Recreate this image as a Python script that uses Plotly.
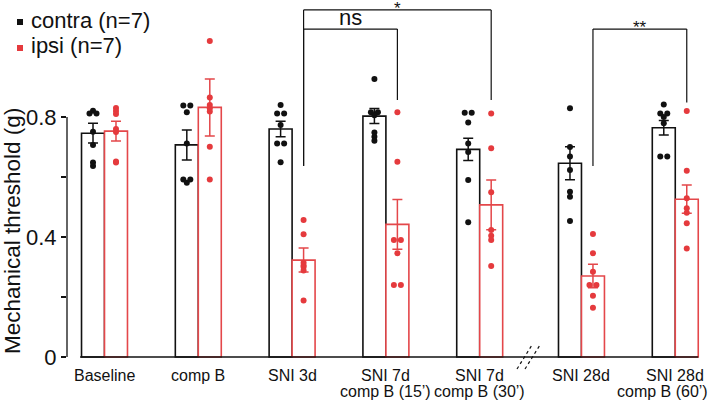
import plotly.graph_objects as go

# ---------------- data ----------------
categories = ["Baseline", "comp B", "SNI 3d", "SNI 7d<br>comp B (15’)",
              "SNI 7d<br>comp B (30’)", "SNI 28d", "SNI 28d<br>comp B (60’)"]
series_names = ["contra (n=7)", "ipsi (n=7)"]
y_title = "Mechanical threshold (g)"

contra_mean = [0.746, 0.707, 0.760, 0.803, 0.692, 0.646, 0.764]
contra_sem = [0.033, 0.050, 0.026, 0.025, 0.037, 0.055, 0.024]
ipsi_mean = [0.753, 0.832, 0.323, 0.442, 0.507, 0.270, 0.526]
ipsi_sem = [0.033, 0.095, 0.040, 0.083, 0.083, 0.039, 0.047]

contra_points = [
    [0.821, 0.812, 0.812, 0.751, 0.707, 0.648, 0.637],
    [0.838, 0.838, 0.816, 0.712, 0.592, 0.581, 0.592],
    [0.840, 0.812, 0.812, 0.773, 0.712, 0.712, 0.649],
    [0.927, 0.816, 0.816, 0.806, 0.748, 0.734, 0.721],
    [0.814, 0.814, 0.782, 0.712, 0.683, 0.590, 0.449],
    [0.829, 0.700, 0.668, 0.623, 0.551, 0.534, 0.453],
    [0.842, 0.812, 0.812, 0.800, 0.779, 0.668, 0.668],
]
ipsi_points = [
    [0.830, 0.820, 0.810, 0.760, 0.750, 0.652, 0.648],
    [1.053, 0.865, 0.840, 0.829, 0.818, 0.701, 0.592],
    [0.457, 0.409, 0.314, 0.305, 0.300, 0.288, 0.188],
    [0.816, 0.651, 0.390, 0.390, 0.346, 0.240, 0.240],
    [0.812, 0.696, 0.549, 0.423, 0.404, 0.390, 0.303],
    [0.410, 0.346, 0.284, 0.240, 0.240, 0.204, 0.164],
    [0.820, 0.621, 0.529, 0.496, 0.481, 0.446, 0.362],
]
y_tick_vals = [0, 0.2, 0.4, 0.6, 0.8]
y_tick_text = ["0", "", "0.4", "", "0.8"]

# comparisons: (left group, right group, label)
comparisons = [(2, 3, "ns"), (2, 4, "*"), (5, 6, "**")]

# ---------------- layout constants ----------------
FONT = "Liberation Sans, Arial, sans-serif"
BLACK = "#111111"
RED = "#E53A3D"
RED_BAR = "#E4474A"
GAP_AFTER = 5          # axis break before this group
GAP = 0.085
BW = 0.245
HALF = 0.1225
W, H = 708, 401
ML, MR, MT, MB = 67, 0, 0, 42
PX_PER_X = 93.8
X0_PX = 104.5
XMIN = (ML - X0_PX) / PX_PER_X
XMAX = (W - MR - X0_PX) / PX_PER_X
PLOT_H = H - MT - MB
YMIN = -(PLOT_H - 357) / 300.0
YMAX = 357 / 300.0

centers = [i + (GAP if i >= GAP_AFTER else 0) for i in range(len(categories))]


def px_to_paper_x(px):
    return (px - ML) / (W - ML - MR)


def px_to_paper_y(py):
    return (H - MB - py) / PLOT_H


def jitter(vals, base):
    xs = []
    step = 0.0746
    for i, v in enumerate(vals):
        same = [j for j, w in enumerate(vals) if abs(w - v) < 0.001]
        k = same.index(i)
        n = len(same)
        xs.append(base + (k - (n - 1) / 2) * step)
    return xs


fig = go.Figure()

# bars with error bars
for name, means, sems, col, off in [
    (series_names[0], contra_mean, contra_sem, BLACK, -HALF),
    (series_names[1], ipsi_mean, ipsi_sem, RED_BAR, HALF),
]:
    fig.add_trace(go.Bar(
        x=[c + off for c in centers], y=means, width=BW, name=name,
        marker=dict(color="white", line=dict(color=col, width=1.6)),
        error_y=dict(type="data", array=sems, visible=True, color=col,
                     thickness=1.5, width=5),
        showlegend=False, hoverinfo="skip",
    ))

# individual points
for name, pts, col, off in [
    (series_names[0], contra_points, BLACK, -HALF),
    (series_names[1], ipsi_points, RED, HALF),
]:
    xs, ys = [], []
    for c, vals in zip(centers, pts):
        xs += jitter(vals, c + off)
        ys += vals
    fig.add_trace(go.Scatter(
        x=xs, y=ys, mode="markers", name=name,
        marker=dict(color=col, size=6, line=dict(width=0)),
        showlegend=False, cliponaxis=False, hoverinfo="skip",
    ))

shapes = []
annotations = []

# y axis line (0 to 0.8)
shapes.append(dict(type="line", xref="paper", yref="y", x0=0, x1=0,
                   y0=0, y1=0.8, line=dict(color=BLACK, width=1.3)))
# x axis line
shapes.append(dict(type="line", xref="x", yref="y",
                   x0=centers[0] - HALF - BW / 2 - 0.015,
                   x1=centers[-1] + HALF + BW / 2,
                   y0=0, y1=0, line=dict(color=BLACK, width=1.5)))
# axis break marks
for dx in (0, 8):
    shapes.append(dict(type="line", xref="paper", yref="paper",
                       x0=px_to_paper_x(517 + dx), y0=px_to_paper_y(369),
                       x1=px_to_paper_x(532 + dx), y1=px_to_paper_y(345),
                       line=dict(color=BLACK, width=1.2, dash="dot")))

# y axis title (placed like the reference, below the plot-area centre)
annotations.append(dict(x=px_to_paper_x(12), y=px_to_paper_y(231),
                        xref="paper", yref="paper", text=y_title, textangle=-90,
                        showarrow=False, xanchor="center", yanchor="middle",
                        font=dict(size=22.5, color=BLACK, family=FONT)))

# category labels (one annotation per text line)
for gi, (c, lab) in enumerate(zip(centers, categories)):
    for li, line in enumerate(lab.split("<br>")):
        ann = dict(x=c, y=px_to_paper_y(375.5 + 16 * li),
                   xref="x", yref="paper", text=line,
                   showarrow=False, xanchor="center", yanchor="middle",
                   font=dict(size=16, color=BLACK, family=FONT))
        if gi == len(categories) - 1 and li == 1:
            # keep the long last line inside the figure's right edge
            ann.update(x=1, xref="paper", xanchor="right", xshift=2)
        annotations.append(ann)

# significance brackets
bracket_tops = {"ns": 1.093, "*": 1.157, "**": 1.093}
bracket_ends = {2: 0.637, 3: 0.857, 4: 0.857, 5: 0.637, 6: 0.848}
for a, b, lab in comparisons:
    xa = centers[a] + HALF
    xb = centers[b] + HALF
    top = bracket_tops[lab]
    shapes.append(dict(type="line", xref="x", yref="y", x0=xa, x1=xb,
                       y0=top, y1=top, line=dict(color=BLACK, width=1.2)))
    shapes.append(dict(type="line", xref="x", yref="y", x0=xa, x1=xa,
                       y0=bracket_ends[a], y1=top, line=dict(color=BLACK, width=1.2)))
    shapes.append(dict(type="line", xref="x", yref="y", x0=xb, x1=xb,
                       y0=bracket_ends[b], y1=top, line=dict(color=BLACK, width=1.2)))
    if lab == "ns":
        annotations.append(dict(x=(xa + xb) / 2, y=top, xref="x", yref="y",
                                text=lab, showarrow=False, yanchor="bottom",
                                yshift=-3, font=dict(size=22, color=BLACK, family=FONT)))
    else:
        annotations.append(dict(x=(xa + xb) / 2, y=top, xref="x", yref="y",
                                text=lab, showarrow=False, yanchor="bottom",
                                yshift=-10, font=dict(size=17, color=BLACK, family=FONT)))

# legend (squares + text)
for name, col, cy in [(series_names[0], BLACK, 22), (series_names[1], RED, 48)]:
    shapes.append(dict(type="rect", xref="paper", yref="paper",
                       x0=px_to_paper_x(17), x1=px_to_paper_x(23),
                       y0=px_to_paper_y(cy + 3), y1=px_to_paper_y(cy - 3),
                       fillcolor=col, line=dict(width=0)))
    annotations.append(dict(x=px_to_paper_x(29), y=px_to_paper_y(cy - 2),
                            xref="paper", yref="paper", text=name,
                            showarrow=False, xanchor="left", yanchor="middle",
                            font=dict(size=22, color=BLACK, family=FONT)))

fig.update_layout(
    width=W, height=H,
    margin=dict(l=ML, r=MR, t=MT, b=MB, pad=0),
    plot_bgcolor="white", paper_bgcolor="white",
    barmode="overlay", hovermode=False,
    shapes=shapes, annotations=annotations,
    font=dict(family=FONT, color=BLACK),
    xaxis=dict(range=[XMIN, XMAX], showticklabels=False, ticks="",
               showgrid=False, zeroline=False, showline=False),
    yaxis=dict(range=[YMIN, YMAX], tickvals=y_tick_vals, ticktext=y_tick_text,
               showgrid=False, zeroline=False, showline=False,
               ticks="outside", ticklen=5, tickwidth=1.3, tickcolor=BLACK,
               tickfont=dict(size=22, color=BLACK, family=FONT)),
)

fig.write_html("out.html",
               config={"displayModeBar": False, "staticPlot": True},
               post_script="document.body.style.margin='0';document.body.style.overflow='hidden';")
